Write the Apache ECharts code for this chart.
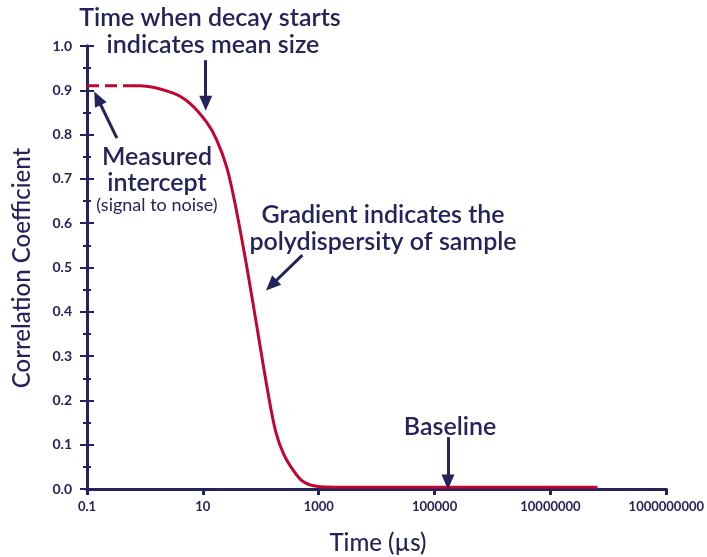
<!DOCTYPE html>
<html>
<head>
<meta charset="utf-8">
<script src="https://cdn.jsdelivr.net/npm/echarts@6/dist/echarts.min.js"></script>
<style>
  html, body { margin: 0; padding: 0; background: #fff; }
  #main { width: 707px; height: 557px; }
</style>
</head>
<body>
<div id="main"></div>
<script>
// correlogram data (time in µs, correlation coefficient)
var timeDashed = [0.1, 0.55];
var corrDashed = [0.91, 0.91];
var timeSolid = [0.55, 0.82, 3.0, 5.9, 11.6, 17.3, 25.7, 35.2, 56.7, 91.2, 130, 179, 246, 352, 522, 912, 2000, 6.5e7];
var corrSolid = [0.91, 0.91, 0.894, 0.871, 0.828, 0.788, 0.727, 0.650, 0.505, 0.345, 0.225, 0.132, 0.080, 0.045, 0.018, 0.006, 0.004, 0.004];
var xTicks = [0.1, 10, 1000, 100000, 10000000, 1000000000];

var navy = '#24235c';
var red = '#c0062f';
var font = 'Lato';

function pairs(xs, ys) {
	var out = [];
	for (var i = 0; i < xs.length; i++) {
		out.push([xs[i], ys[i]]);
	}
	return out;
}

function xFmt(v) {
	if (v < 1) return v.toFixed(1);
	return String(Math.round(v));
}

// arrows in data coords: [from, to]
var arrows = [
	[[11.2, 0.968], [11.2, 0.871]],
	[[0.328, 0.792], [0.152, 0.882]],
	[[522, 0.528], [152, 0.46]],
	[[170000, 0.117], [170000, 0.016]]
];

var myChart = echarts.init(document.getElementById('main'));

var xBase = {
	type: 'log',
	logBase: 10,
	min: 0.1,
	max: 1000000000,
	axisLine: { lineStyle: { color: navy, width: 3 } },
	splitLine: { show: false }
};
var yBase = {
	type: 'value',
	min: 0,
	max: 1,
	interval: 0.1,
	axisLine: { show: true, lineStyle: { color: navy, width: 3 } },
	splitLine: { show: false },
	minorSplitLine: { show: false }
};

function txt(x, y, s, f) {
	return { type: 'text', x: x, y: y, style: { text: s, fill: navy, font: f, textAlign: 'center', textVerticalAlign: 'middle' } };
}
var big = '600 25px ' + font;

var option = {
	animation: false,
	grid: { left: 87, right: 39, top: 46, bottom: 68 },
	xAxis: [
		echarts.util.merge({
			axisTick: { show: true, inside: false, length: 6, customValues: xTicks, lineStyle: { color: navy, width: 3 } },
			axisLabel: { customValues: xTicks, formatter: xFmt, color: navy, fontFamily: font, fontSize: 13, fontWeight: 'bold', margin: 11 }
		}, xBase, true),
		echarts.util.merge({
			axisTick: { show: true, inside: true, length: 6, customValues: xTicks, lineStyle: { color: navy, width: 3 } },
			axisLabel: { show: false }
		}, xBase, true)
	],
	yAxis: [
		echarts.util.merge({
			axisTick: { show: true, inside: false, length: 7, lineStyle: { color: navy, width: 2 } },
			minorTick: { show: true, splitNumber: 2, length: 4, lineStyle: { color: navy, width: 2 } },
			axisLabel: {
				formatter: function (v) { return v.toFixed(1); },
				color: navy, fontFamily: font, fontSize: 14, fontWeight: 'bold', margin: 15
			}
		}, yBase, true),
		echarts.util.merge({
			position: 'left',
			axisTick: { show: true, inside: true, length: 7, lineStyle: { color: navy, width: 2 } },
			minorTick: { show: true, splitNumber: 2, length: 4, lineStyle: { color: navy, width: 2 } },
			axisLabel: { show: false }
		}, yBase, true)
	],
	series: [
		{
			name: 'intercept',
			type: 'line',
			data: pairs(timeDashed, corrDashed),
			showSymbol: false,
			lineStyle: { color: red, width: 3, type: [12, 6] },
			z: 3
		},
		{
			name: 'correlation',
			type: 'line',
			data: pairs(timeSolid, corrSolid),
			showSymbol: false,
			smooth: 0.35,
			lineStyle: { color: red, width: 3 },
			z: 3,
			markLine: {
				silent: true,
				symbol: ['none', 'triangle'],
				symbolSize: [13, 15],
				label: { show: false },
				lineStyle: { color: navy, width: 3, type: 'solid' },
				itemStyle: { color: navy },
				data: arrows.map(function (a) {
					return [{ coord: a[0] }, { coord: a[1] }];
				})
			}
		}
	],
	graphic: [
		txt(210, 18, 'Time when decay starts', big),
		txt(213, 45, 'indicates mean size', big),
		txt(157, 157, 'Measured', big),
		txt(157, 183, 'intercept', big),
		txt(157, 205, '(signal to noise)', '18px ' + font),
		txt(383, 215, 'Gradient indicates the', big),
		txt(383, 242, 'polydispersity of sample', big),
		txt(450, 427, 'Baseline', big),
		txt(378, 543, 'Time (µs)', '500 24px ' + font),
		(function () {
			var t = txt(22, 268, 'Correlation Coefficient', '500 24px ' + font);
			t.rotation = Math.PI / 2;
			return t;
		})()
	]
};
myChart.setOption(option);
</script>
</body>
</html>
